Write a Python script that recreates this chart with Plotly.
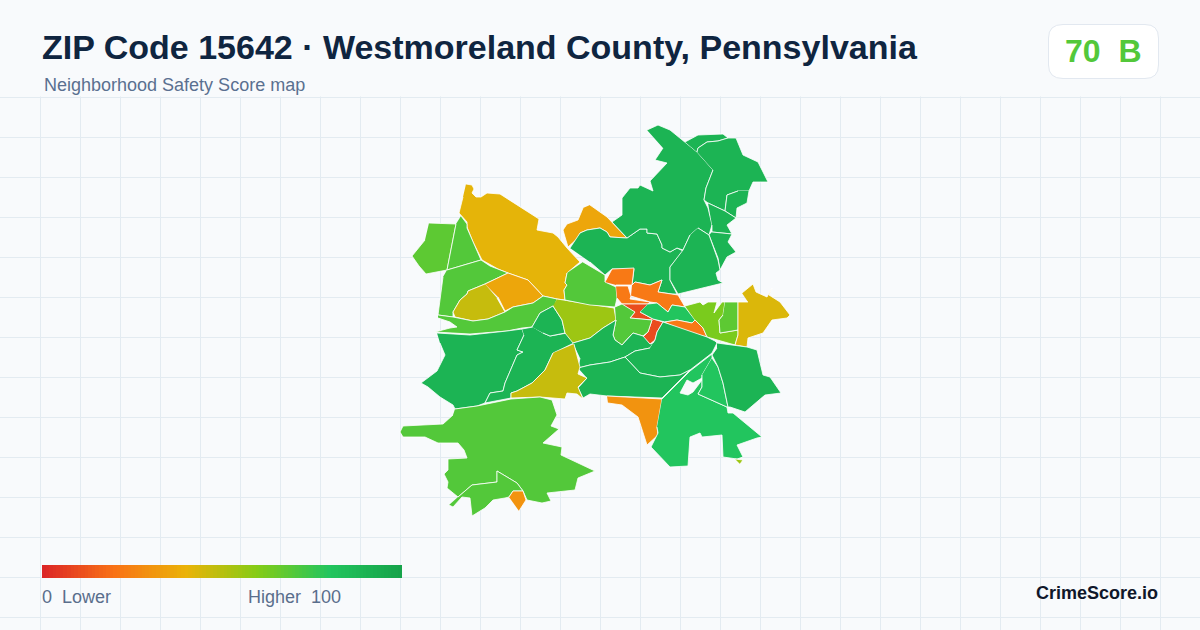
import plotly.graph_objects as go

TITLE = "ZIP Code 15642 · Westmoreland County, Pennsylvania"
SUBTITLE = "Neighborhood Safety Score map"
BADGE = "70\u00a0\u00a0B"
LOW_LABEL = "0\u00a0\u00a0Lower"
HIGH_LABEL = "Higher\u00a0\u00a0100"
BRAND = "CrimeScore.io"

ramp_positions = [0, 0.2, 0.4, 0.6, 0.8, 1]
ramp_colors = ["#dc2626", "#f97316", "#eab308", "#84cc16", "#22c55e", "#16a34a"]
ramp_values = list(range(0, 101))

# Neighborhood outlines, with their scores
n_amber_big = [(466,184),(472,185),(474,189),(472,193),(476,197),(481,197),(487,193),(500,194),(539,219),(537,230),(553,233),(558,237),(567,248),(580,262),(567,273),(565,283),(567,285),(564,290),(565,300),(557,299),(543,296),(533,285),(528,280),(508,273),(498,269),(482,260),(473,242),(467,227),(467,222),(459,213),(463,197)]
n_west_hex = [(429,223),(456,224),(447,270),(426,274),(419,266),(412,256),(425,240)]
n_west_2 = [(461,216),(467,224),(467,228),(473,242),(481,260),(447,270),(456,224)]
n_west_3 = [(447,270),(481,260),(490,266),(508,273),(485,284),(468,291),(467,294),(460,300),(453,312),(453,317),(438,315),(443,277)]
n_olive_w = [(485,284),(468,291),(467,294),(460,300),(453,312),(455,317),(473,321),(488,319),(505,312),(497,298)]
n_amber_w = [(485,284),(508,273),(528,280),(533,285),(543,296),(533,303),(513,307),(505,311),(498,297)]
n_band = [(438,315),(453,317),(473,321),(488,319),(505,312),(513,307),(533,303),(543,296),(557,299),(555,305),(540,313),(532,327),(522,328),(507,331),(470,334),(435,332),(450,328),(457,327),(450,322),(438,318)]
n_sw_1 = [(437,333),(470,335),(507,331),(522,329),(524,335),(517,350),(523,352),(517,355),(505,383),(503,391),(490,393),(485,403),(477,406),(455,409),(453,405),(440,397),(428,387),(421,383),(437,371),(445,355),(440,343)]
n_sw_2 = [(522,329),(533,327),(543,333),(550,336),(567,333),(574,343),(553,353),(545,370),(532,383),(517,391),(511,393),(511,398),(485,403),(490,393),(503,391),(505,383),(517,355),(523,352),(517,350),(524,335)]
n_oval = [(532,327),(540,313),(553,306),(562,320),(565,333),(550,336),(543,333)]
n_center_olive = [(557,299),(614,308),(616,320),(603,328),(590,338),(573,343),(565,333),(562,320),(553,306)]
n_center_green = [(583,262),(605,275),(605,282),(616,287),(617,298),(615,307),(590,305),(565,300),(564,290),(567,285),(565,283),(567,273)]
n_amber_n = [(590,205),(607,217),(627,238),(610,237),(607,232),(600,228),(587,230),(580,233),(578,238),(568,247),(565,237),(563,230),(567,224),(578,220),(583,208)]
n_strip = [(570,248),(578,237),(580,233),(587,230),(600,228),(607,232),(610,237),(627,238),(640,229),(647,229),(647,233),(657,234),(662,245),(662,248),(670,252),(677,248),(683,251),(670,267),(670,280),(677,294),(672,294),(658,292),(662,280),(650,285),(635,282),(632,285),(634,269),(612,269),(605,275),(590,262)]
n_north = [(647,130),(658,125),(670,130),(697,152),(713,170),(706,188),(704,200),(708,208),(712,225),(709,235),(698,228),(690,235),(683,250),(677,248),(670,252),(662,248),(662,245),(657,234),(647,233),(647,229),(640,229),(627,238),(612,222),(622,215),(622,198),(630,188),(638,188),(640,185),(653,191),(650,181),(667,163),(655,160),(663,148)]
n_ne_sliver = [(685,142),(698,135),(723,134),(728,138),(718,141),(707,142),(698,148),(697,152)]
n_ne_big = [(697,152),(698,148),(707,142),(718,141),(728,138),(736,138),(743,155),(758,162),(768,182),(753,182),(749,191),(738,191),(727,195),(725,211),(708,203),(704,200),(706,188),(713,170)]
n_ne_2 = [(749,191),(747,203),(737,208),(736,218),(725,211),(727,195),(738,191)]
n_ne_3 = [(708,203),(725,211),(736,218),(727,225),(732,234),(712,232),(712,225)]
n_ne_4 = [(712,232),(732,234),(728,242),(736,252),(727,257),(720,270),(718,258),(709,235)]
n_ne_5 = [(698,228),(709,235),(718,260),(720,270),(716,273),(718,280),(723,283),(678,294),(670,280),(670,267),(683,250),(690,235)]
n_orange_top = [(605,282),(612,269),(634,268),(632,285),(616,285)]
n_orange_mid = [(616,286),(628,286),(631,296),(630,299),(650,302),(648,304),(622,304),(617,298)]
n_orange_east = [(632,285),(635,282),(650,285),(662,280),(658,292),(678,295),(685,307),(672,305),(668,312),(657,303),(650,302),(631,296)]
n_red = [(622,304),(648,304),(640,312),(653,319),(663,322),(657,332),(655,340),(650,344),(643,337),(648,332),(652,320),(630,318),(635,312)]
n_bright_c = [(648,304),(657,303),(668,312),(672,305),(685,307),(695,320),(692,323),(677,320),(665,322),(653,319),(640,312)]
n_orange_s = [(665,322),(677,320),(692,323),(695,320),(703,328),(707,337),(687,332)]
n_green_c = [(615,307),(622,304),(635,312),(630,318),(652,320),(648,332),(643,336),(633,333),(628,338),(622,345),(615,340),(613,335),(616,320)]
n_lime_e = [(685,306),(692,304),(700,302),(703,305),(708,302),(717,302),(714,313),(722,302),(725,302),(723,315),(719,320),(720,333),(738,330),(738,335),(735,345),(707,337),(703,328),(695,320)]
n_green_e = [(725,302),(738,302),(738,330),(720,333),(719,320),(723,315)]
n_yellow_e = [(742,293),(753,284),(756,292),(767,297),(772,288),(769,295),(780,302),(790,315),(787,318),(772,320),(763,333),(748,338),(747,347),(735,345),(738,335),(738,302),(748,302)]
n_s_west = [(573,343),(590,338),(603,328),(616,320),(613,335),(615,340),(622,345),(628,338),(633,333),(643,336),(650,344),(653,343),(650,348),(635,351),(625,357),(610,362),(590,365),(578,368),(580,358)]
n_s_center = [(653,343),(655,340),(657,332),(663,322),(707,337),(715,341),(717,343),(712,353),(690,370),(680,375),(660,377),(640,373),(625,357),(635,351),(650,348)]
n_s_low = [(578,368),(590,365),(610,362),(625,357),(640,373),(660,377),(680,375),(690,370),(662,398),(607,396),(590,394),(583,398),(578,388),(587,378)]
n_olive_s = [(574,344),(578,358),(580,367),(578,374),(587,378),(578,387),(583,399),(577,394),(567,393),(565,399),(540,397),(511,398),(511,393),(517,391),(532,383),(545,370),(553,353)]
n_amber_s = [(607,396),(662,399),(657,427),(658,435),(647,445),(638,417),(622,405),(608,403)]
n_bright_s = [(662,399),(690,371),(712,354),(712,358),(702,375),(702,378),(693,383),(687,380),(680,393),(688,395),(693,392),(702,380),(702,387),(698,394),(727,407),(728,413),(733,413),(762,437),(757,438),(737,445),(743,457),(737,459),(723,457),(722,435),(702,437),(700,433),(690,437),(688,466),(670,467),(651,447),(658,433),(657,427)]
n_bright_in = [(712,358),(718,367),(723,383),(728,407),(727,407),(698,394),(702,387),(702,375)]
n_east = [(717,343),(747,347),(757,350),(763,375),(770,377),(781,393),(765,395),(745,412),(730,407),(728,407),(723,383),(718,367),(712,355),(717,348)]
n_speck = [(735,459),(743,460),(740,464)]
n_south = [(455,409),(477,406),(511,399),(540,397),(552,400),(557,415),(551,426),(559,429),(543,443),(562,447),(561,455),(595,471),(578,478),(575,490),(547,493),(551,501),(542,503),(527,500),(523,491),(517,483),(497,471),(497,482),(472,485),(458,497),(447,488),(448,482),(444,474),(448,470),(448,459),(467,458),(464,450),(458,443),(438,443),(425,437),(403,437),(400,432),(403,426),(443,424),(453,415)]
n_south_low = [(458,497),(472,485),(497,482),(497,471),(517,483),(523,491),(513,491),(509,497),(505,498),(493,500),(485,508),(472,516),(470,498),(462,497),(453,507),(449,505)]
n_amber_spot = [(509,497),(513,491),(523,491),(526,500),(519,511)]

outlines = [n_amber_big, n_west_hex, n_west_2, n_west_3, n_olive_w, n_amber_w, n_band, n_sw_1, n_sw_2, n_oval,
            n_center_olive, n_center_green, n_amber_n, n_strip, n_north, n_ne_sliver, n_ne_big, n_ne_2, n_ne_3,
            n_ne_4, n_ne_5, n_orange_top, n_orange_mid, n_orange_east, n_red, n_bright_c, n_orange_s, n_green_c,
            n_lime_e, n_green_e, n_yellow_e, n_s_west, n_s_center, n_s_low, n_olive_s, n_amber_s, n_bright_s,
            n_bright_in, n_east, n_speck, n_south, n_south_low, n_amber_spot]
scores = [41, 68, 70, 70, 47, 36, 70, 90, 90, 90,
          55, 70, 36, 90, 90, 90, 90, 90, 90,
          90, 90, 22, 22, 22, 10, 80, 22, 70,
          62, 68, 43, 90, 90, 90, 47, 30, 80,
          80, 90, 55, 70, 70, 30]

colorscale = [[p, c] for p, c in zip(ramp_positions, ramp_colors)]


def score_color(score):
    t = score / 100
    for (p0, c0), (p1, c1) in zip(colorscale, colorscale[1:]):
        if t <= p1:
            f = (t - p0) / (p1 - p0)
            a = [int(c0[i:i + 2], 16) for i in (1, 3, 5)]
            b = [int(c1[i:i + 2], 16) for i in (1, 3, 5)]
            return "rgb({},{},{})".format(*[round(u + (v - u) * f) for u, v in zip(a, b)])
    return ramp_colors[-1]


fig = go.Figure()
for pts, score in zip(outlines, scores):
    fig.add_trace(go.Scatter(
        x=[p[0] for p in pts], y=[p[1] for p in pts],
        mode="lines", fill="toself",
        fillcolor=score_color(score),
        line=dict(color="#ffffff", width=0.8),
        hoverinfo="skip", showlegend=False,
    ))

fig.add_trace(go.Heatmap(
    z=[ramp_values], x0=43.78, dx=3.564, y=[565, 578],
    colorscale=colorscale, zmin=0, zmax=100, showscale=False, hoverinfo="skip",
))

font = "Liberation Sans, Arial, sans-serif"


def label(x, y, text, size, color, anchor="left", bold=False):
    fig.add_annotation(x=x, y=y, text=f"<b>{text}</b>" if bold else text, showarrow=False,
                       xanchor=anchor, yanchor="middle", borderpad=0, borderwidth=0,
                       font=dict(family=font, size=size, color=color))


label(42, 47, TITLE, 34, "#0f2540", bold=True)
label(44, 85, SUBTITLE, 18, "#5a7090")
label(1102.5, 51, BADGE, 32, "#53c83a", anchor="center", bold=True)
label(42, 597, LOW_LABEL, 18, "#5a6e8c")
label(341, 597, HIGH_LABEL, 18, "#5a6e8c", anchor="right")
label(1158, 593, BRAND, 18, "#0f172a", anchor="right", bold=True)

fig.update_layout(
    width=1200, height=630, margin=dict(l=0, r=0, t=0, b=0),
    paper_bgcolor="#f8fafc", plot_bgcolor="#f8fafc",
    xaxis=dict(range=[0, 1200], tick0=0.5, dtick=40, showgrid=True, gridcolor="#e3ebf1", gridwidth=1,
               zeroline=False, showticklabels=False, ticks="", fixedrange=True),
    yaxis=dict(range=[630, 0], tick0=17, dtick=40, showgrid=True, gridcolor="#e3ebf1", gridwidth=1,
               zeroline=False, showticklabels=False, ticks="", fixedrange=True),
    shapes=[
        dict(type="rect", x0=0, x1=1200, y0=0, y1=96.5, layer="between", line=dict(width=0), fillcolor="#f8fafc"),
        dict(type="path", path="M1063,24.5 H1145 Q1158.5,24.5 1158.5,38 V65 Q1158.5,78.5 1145,78.5 H1063 Q1048.5,78.5 1048.5,65 V38 Q1048.5,24.5 1063,24.5 Z",
             layer="between", line=dict(color="#e2e8f0", width=1), fillcolor="#ffffff"),
    ],
)
fig.write_html("out.html", config=dict(displayModeBar=False),
               post_script="document.body.style.margin='0';")
